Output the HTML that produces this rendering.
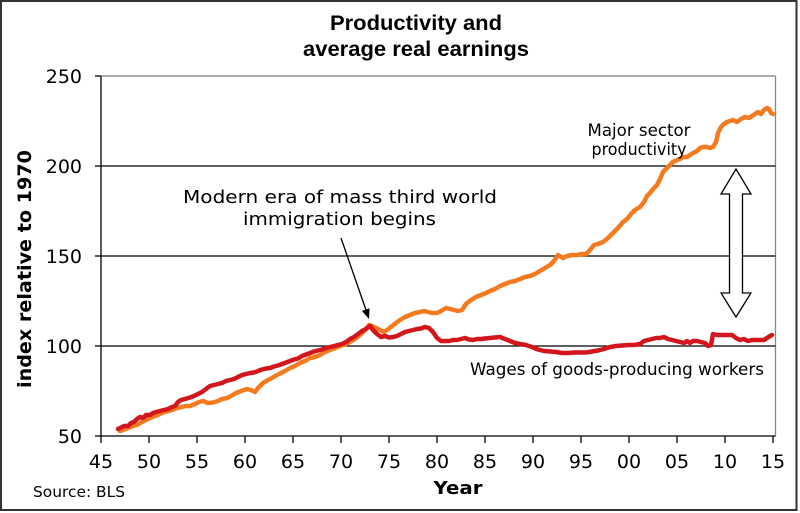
<!DOCTYPE html>
<html>
<head>
<meta charset="utf-8">
<style>
html,body{margin:0;padding:0;background:#fff;}
svg{display:block;}
</style>
</head>
<body>
<svg width="800" height="513" viewBox="0 0 800 513" xmlns="http://www.w3.org/2000/svg">
<rect x="0" y="0" width="800" height="513" fill="#fff"/>
<rect x="1" y="1" width="795.5" height="509" fill="none" stroke="#333" stroke-width="2"/>

<!-- Title -->
<g font-family="'Liberation Sans', Arial, sans-serif" font-weight="bold" font-size="21" fill="#000" text-anchor="middle">
<text x="416" y="30" textLength="172" lengthAdjust="spacingAndGlyphs">Productivity and</text>
<text x="416" y="56" textLength="226" lengthAdjust="spacingAndGlyphs">average real earnings</text>
</g>

<!-- plot frame -->
<line x1="101" y1="76" x2="775.5" y2="76" stroke="#777" stroke-width="1.3"/>
<line x1="775.5" y1="76" x2="775.5" y2="436" stroke="#888" stroke-width="1.3"/>
<!-- gridlines -->
<g stroke="#000" stroke-width="1.3">
<line x1="101" y1="166" x2="775.5" y2="166"/>
<line x1="101" y1="256" x2="775.5" y2="256"/>
<line x1="101" y1="346" x2="775.5" y2="346"/>
<!-- axes -->
<line x1="101" y1="76" x2="101" y2="436.5"/>
<line x1="101" y1="436" x2="775.5" y2="436"/>
<!-- y ticks -->
<line x1="95" y1="76" x2="101" y2="76"/>
<line x1="95" y1="166" x2="101" y2="166"/>
<line x1="95" y1="256" x2="101" y2="256"/>
<line x1="95" y1="346" x2="101" y2="346"/>
<line x1="95" y1="436" x2="101" y2="436"/>
<!-- x ticks -->
<line x1="101" y1="436" x2="101" y2="443"/>
<line x1="149" y1="436" x2="149" y2="443"/>
<line x1="197" y1="436" x2="197" y2="443"/>
<line x1="245" y1="436" x2="245" y2="443"/>
<line x1="293" y1="436" x2="293" y2="443"/>
<line x1="341" y1="436" x2="341" y2="443"/>
<line x1="389" y1="436" x2="389" y2="443"/>
<line x1="437" y1="436" x2="437" y2="443"/>
<line x1="485" y1="436" x2="485" y2="443"/>
<line x1="533" y1="436" x2="533" y2="443"/>
<line x1="581" y1="436" x2="581" y2="443"/>
<line x1="629" y1="436" x2="629" y2="443"/>
<line x1="677" y1="436" x2="677" y2="443"/>
<line x1="725" y1="436" x2="725" y2="443"/>
<line x1="773" y1="436" x2="773" y2="443"/>
</g>

<!-- y tick labels -->
<g font-family="'DejaVu Sans', Verdana, sans-serif" font-size="19" fill="#000" text-anchor="end">
<text x="82" y="83">250</text>
<text x="82" y="173">200</text>
<text x="82" y="263">150</text>
<text x="82" y="353">100</text>
<text x="82" y="443">50</text>
</g>
<!-- x tick labels -->
<g font-family="'DejaVu Sans', Verdana, sans-serif" font-size="19" fill="#000" text-anchor="middle">
<text x="101" y="468">45</text>
<text x="149" y="468">50</text>
<text x="197" y="468">55</text>
<text x="245" y="468">60</text>
<text x="293" y="468">65</text>
<text x="341" y="468">70</text>
<text x="389" y="468">75</text>
<text x="437" y="468">80</text>
<text x="485" y="468">85</text>
<text x="533" y="468">90</text>
<text x="581" y="468">95</text>
<text x="629" y="468">00</text>
<text x="677" y="468">05</text>
<text x="725" y="468">10</text>
<text x="773" y="468">15</text>
</g>

<!-- axis titles -->
<text x="458" y="494" font-family="'DejaVu Sans', Verdana, sans-serif" font-weight="bold" font-size="18" text-anchor="middle" textLength="49" lengthAdjust="spacingAndGlyphs">Year</text>
<text transform="translate(31,269) rotate(-90)" x="0" y="0" font-family="'DejaVu Sans', Verdana, sans-serif" font-weight="bold" font-size="19" text-anchor="middle" textLength="238" lengthAdjust="spacingAndGlyphs">index relative to 1970</text>
<text x="33" y="497" font-family="'DejaVu Sans', Verdana, sans-serif" font-size="15" textLength="92" lengthAdjust="spacingAndGlyphs">Source: BLS</text>

<!-- Double arrow -->
<polygon points="736,169 751,194 742.5,194 742.5,293 751,293 736,317 721,293 729.5,293 729.5,194 721,194" fill="#fff" stroke="#000" stroke-width="1.3" stroke-linejoin="miter"/>

<!-- Productivity (orange) -->
<polyline fill="none" stroke="#f37a1f" stroke-width="4.5" stroke-linejoin="round" stroke-linecap="round" points="
120,431 123,430 128,428 133,426 137,425 142,422 146,420 150,418 155,416 160,414 164,412 167,411.5 172,410 177,408 182,407 186,406 190,406 195,404 199,402 203,401 208,403 213,402.5 218,401 222,399 227,398 231,396 236,393 240,391.5 244,390 247,389 251,390 255,392 258,388 263,383 268,380 272,378 277,375 281,373 285,371 290,368 295,366 300,363 305,361 310,358 315,357 320,355 325,352 330,350 335,348 340,346 345,344.5 350,342 355,339 360,335 365,330 369,325 372,326 376,328 380,330 384,332 387,330 391,327 396,323 400,320 405,317 410,315 415,313 420,312 424,311 428,312 432,313 437,313 441,311 446,308 450,309 454,310 458,311 462,310 466,304 471,300 476,297 481,295 486,293 490,291 495,289 500,286 505,284 510,282 515,281 520,279 525,277 530,276 535,274 540,271 545,268 550,265 554,261 558,255 563,258 567,256 572,255 577,255 582,254 586,254 590,250 594,245 598,244 603,242 608,238 613,233 618,228 623,222 627,219 631,214 635,210 640,207 644,202 647,196 650,193 654,188 657,185 660,179 663,172 667,168 670,165 673,162 677,160 680,159 683,157 687,157 690,155 693,153 697,151 700,148 703,147 707,147 710,148 713,147 716,142 718,133 721,127 724,124 727,122 730,121 733,120 737,122 741,119 745,117 749,118 752,116 755,114 758,112 761,114 764,110 767,108 769,109 771,113 773,114"/>

<!-- Wages (red) -->
<polyline fill="none" stroke="#d3161b" stroke-width="4.5" stroke-linejoin="round" stroke-linecap="round" points="
118,429 120,428 124,426 128,426 131,423 134,422 137,419 140,417 143,418 146,415 150,415 153,413 156,412 160,411 164,410 168,409 172,407 175,406 178,402 181,400 185,399 190,397.5 194,396 198,394 202,392 206,389 210,386 214,385 218,384 222,383 226,381 230,380 234,379 238,377 242,375 246,374 250,373 254,372.5 258,371 262,369.5 266,368.5 270,368 274,366.5 278,365.5 282,364 286,362.5 290,361 294,359.5 298,358.5 302,356 306,354.5 310,353 314,351.5 318,350.5 322,349.5 326,348 330,347 334,346 338,345 342,344 346,342 350,339 354,337 358,334 362,331 366,329 370,326 373,330 377,334 381,337 385,336 389,337.5 393,337 397,336 401,334 405,332 409,331 413,330 417,329 421,328.5 425,327 429,328 433,332 437,338 441,341 445,341 449,341 453,340 457,340 461,339 465,338 469,339.5 473,340 477,339 481,339 485,338.5 490,338 495,337.5 500,337 505,339 510,341 515,343 520,344 526,345 532,347 538,349.5 544,351 550,351.5 556,352 562,353 568,353 574,352.5 580,352.5 586,352.5 592,351.5 598,350.5 604,349 610,347 616,346 622,345.5 628,345 634,345 640,344 644,341 648,340 652,339 656,338 660,338 664,337 668,339 672,340 676,341 680,342 684,343 687,341 690,343 693,341 697,341 701,342 705,343 708,346 711,345 713,334 717,335 722,335 727,335 732,335 736,338 740,340 744,339 748,341 752,340 756,340 760,340 764,340 767,338 770,336 772,335"/>

<!-- Annotation -->
<g font-family="'DejaVu Sans', Verdana, sans-serif" font-size="18" fill="#000" text-anchor="middle">
<text x="340" y="203" textLength="314" lengthAdjust="spacingAndGlyphs">Modern era of mass third world</text>
<text x="339.5" y="225" textLength="193" lengthAdjust="spacingAndGlyphs">immigration begins</text>
</g>
<line x1="341" y1="238" x2="366.5" y2="311.5" stroke="#000" stroke-width="1.3"/>
<polygon points="369,319 361.9,310.9 369.5,308.3" fill="#000"/>

<!-- Series labels -->
<g font-family="'DejaVu Sans', Verdana, sans-serif" font-size="16.5" fill="#000" text-anchor="middle">
<text x="639" y="136" textLength="103" lengthAdjust="spacingAndGlyphs">Major sector</text>
<text x="639" y="155" textLength="95" lengthAdjust="spacingAndGlyphs">productivity</text>
</g>
<text x="470" y="375" font-family="'DejaVu Sans', Verdana, sans-serif" font-size="16.5" fill="#000" textLength="294" lengthAdjust="spacingAndGlyphs">Wages of goods-producing workers</text>
</svg>
</body>
</html>
